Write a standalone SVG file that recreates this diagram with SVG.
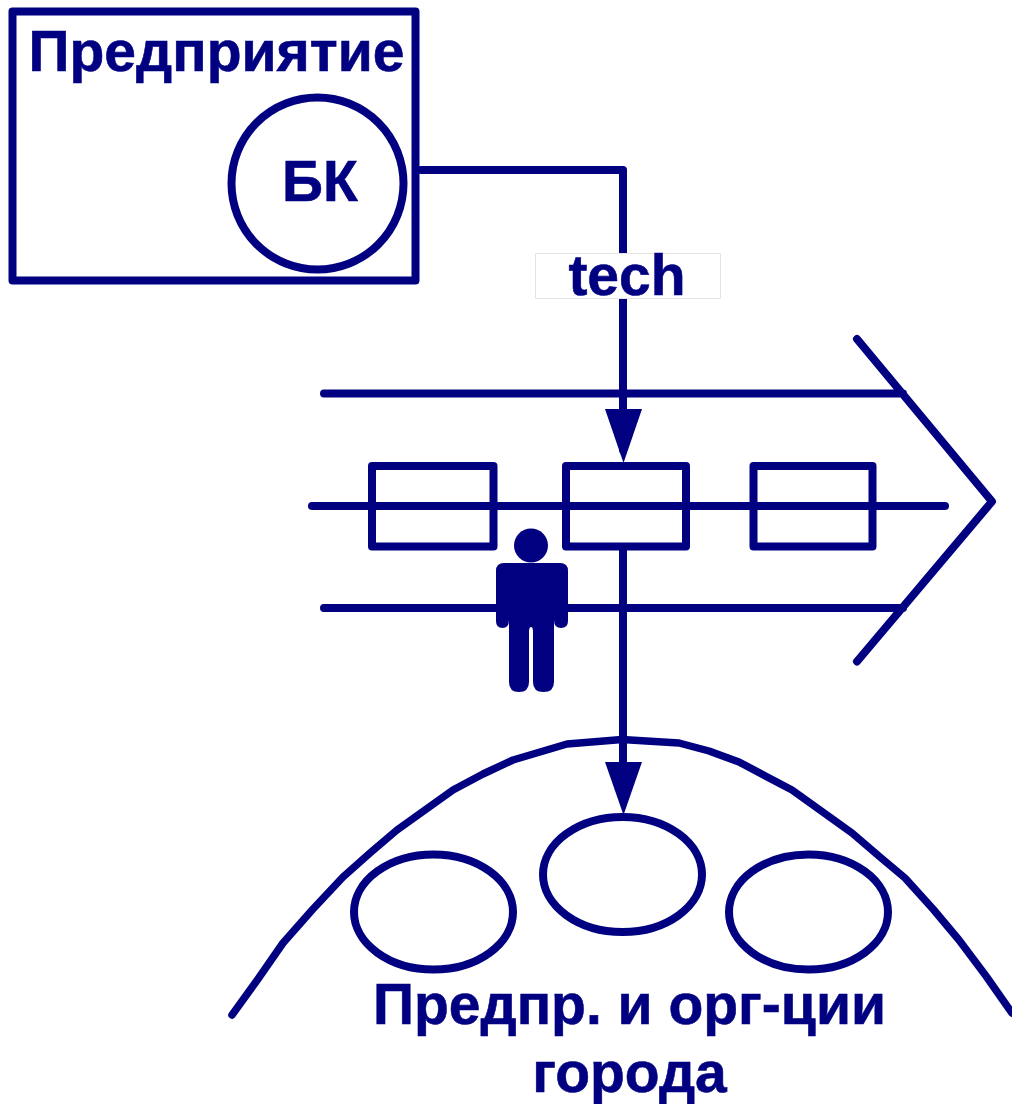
<svg xmlns="http://www.w3.org/2000/svg" width="1012" height="1104" viewBox="0 0 1012 1104">
<style>
.s{fill:none;stroke:#000080;stroke-width:8;stroke-linecap:round;stroke-linejoin:round}
.t{fill:#000080;font-family:"Liberation Sans",Arial,sans-serif;font-weight:bold;font-size:57px;text-anchor:middle;stroke:#000080;stroke-width:.6}
.a{fill:#000080}
</style>
<rect width="1012" height="1104" fill="#fff"/>
<g id="enterprise"><rect class="s" x="12.5" y="11.5" width="403" height="269"/><text class="t" x="216.5" y="71">Предприятие</text></g>
<g id="bk"><circle class="s" cx="317.5" cy="183.5" r="86"/><text class="t" x="320" y="201">БК</text></g>
<g id="connectors">
<path class="s" d="M421 170H623V450"/>
<path class="a" d="M605 409H642L623.500 463Z"/>
<path class="s" d="M623 548V780"/>
<path class="a" d="M605 762H642L623.500 815Z"/>
</g>
<g id="tech"><rect x="535.500" y="253.500" width="185" height="45" fill="#fff" stroke="#e4e4e4"/><text class="t" x="627" y="295">tech</text></g>
<g id="process-arrow">
<path class="s" d="M324 393.500H903M312 506H945M324 608H903M857 339L992 501.500L857 661.500"/>
</g>
<g id="box1"><rect class="s" x="372" y="466" width="121.500" height="80.500"/></g>
<g id="box2"><rect class="s" x="566" y="466" width="120" height="80.500"/></g>
<g id="box3"><rect class="s" x="753.500" y="466" width="119" height="80.500"/></g>
<g id="person">
<circle class="a" cx="531" cy="545.500" r="17"/>
<path class="a" d="M504 563H560Q568 563 568 571V621Q568 628 561 628Q554 628 554 620V682Q554 692 543.500 692Q533 692 533 682V632Q533 627 531 627Q529 627 529 632V682Q529 692 519 692Q509 692 509 682V620Q509 628 502.500 628Q496 628 496 621V571Q496 563 504 563Z"/>
</g>
<g id="city">
<path class="s" style="stroke-width:7.500" d="M232 1015L258 979L283 943L313 909L343 877L370 853L397 830L453 790L483 774L513 760L567 744L622 739.500L679 743L709 751L739 762L792 790L852 833L880 857L905 878L933 909L959 940L986 976L1012 1013"/>
<text class="t" x="629.500" y="1024">Предпр. и орг-ции</text>
<text class="t" x="629.500" y="1092">города</text>
</g>
<g id="org1"><ellipse class="s" cx="433.500" cy="912" rx="79.500" ry="57.500"/></g>
<g id="org2"><ellipse class="s" cx="622.500" cy="874.500" rx="79.500" ry="57.500"/></g>
<g id="org3"><ellipse class="s" cx="808.500" cy="912" rx="79.500" ry="57.500"/></g>
</svg>
